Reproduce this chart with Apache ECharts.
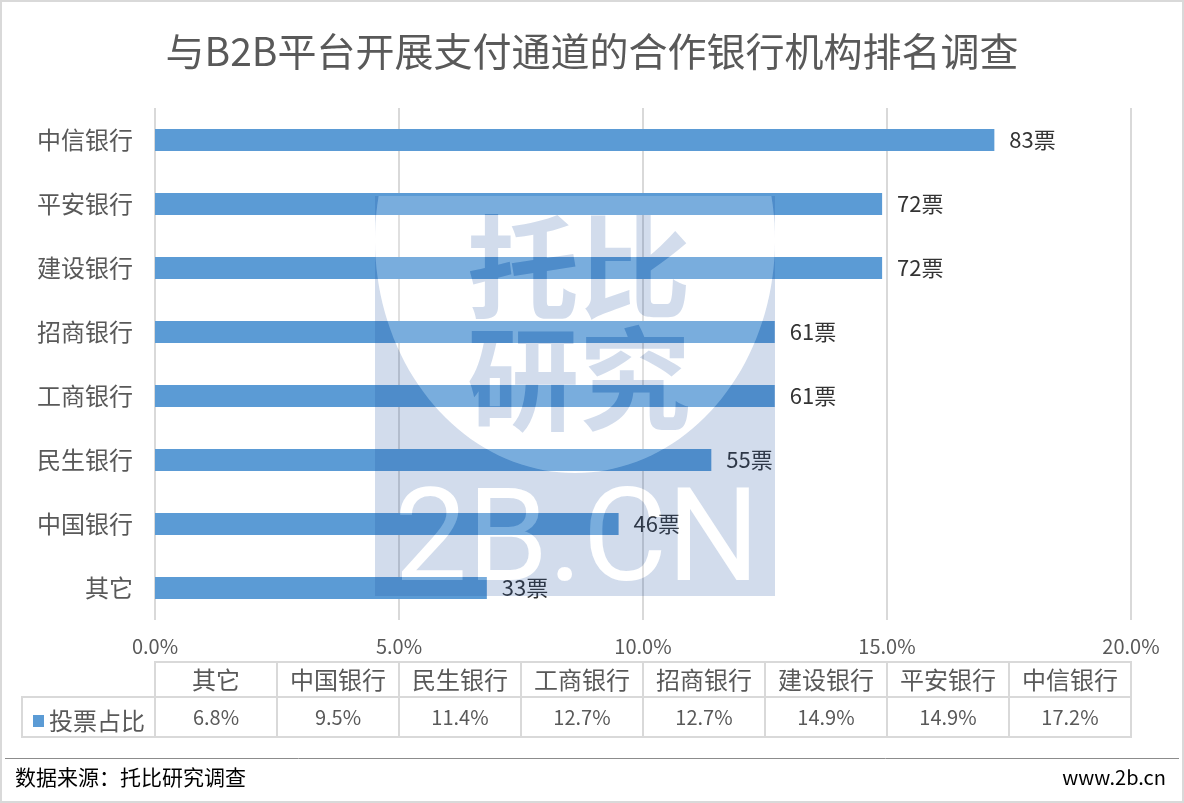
<!DOCTYPE html>
<html><head><meta charset="utf-8">
<script src="https://cdn.jsdelivr.net/npm/echarts@6/dist/echarts.min.js"></script>
<style>html,body{margin:0;padding:0;background:#fff}#c{width:1184px;height:803px;background:#fff}</style>
</head><body><div id="c"></div>
<script>
// ---- data ----
const categories = ['其它','中国银行','民生银行','工商银行','招商银行','建设银行','平安银行','中信银行'];
const shares = [6.8, 9.5, 11.4, 12.7, 12.7, 14.9, 14.9, 17.2];
const votes = [33, 46, 55, 61, 61, 72, 72, 83];
const xTicks = [0, 5, 10, 15, 20];
const tableRows = ['header', 'value'];
const seriesName = '投票占比';
const titleText = '与B2B平台开展支付通道的合作银行机构排名调查';
const sourceText = '数据来源：托比研究调查';
const siteText = 'www.2b.cn';
const wmTextTop = '托比\n研究';
const wmTextBottom = '2B.CN';

// ---- styling ----
const FONT = "'Noto Sans CJK SC','Noto Sans',sans-serif";
const TEXT = '#595959';
const BAR = '#5b9bd5';
const GRID_C = '#d9d9d9';
const WM_BLUE = 'rgba(31,78,160,0.2)';
const WM_WHITE = 'rgba(255,255,255,0.19)';
const HOLE = 'rgba(0,0,0,0)';

const chart = echarts.init(document.getElementById('c'), null, {renderer: 'canvas'});

const tableData = [];
categories.forEach((c, i) => tableRows.forEach((r, j) => tableData.push([i, j])));

// watermark geometry
const WM = {x: 375, y: 196, w: 400, h: 400, cx: 575, cy: 240, rx: 200, ry: 233};
const ang = Math.asin((WM.cy - WM.y) / WM.ry);
const arc = [];
for (let k = 0; k <= 90; k++) {
  const t = Math.PI + ang - (Math.PI + 2 * ang) * k / 90;
  arc.push([WM.cx + WM.rx * Math.cos(t), WM.cy + WM.ry * Math.sin(t)]);
}
const rectMinusArc = [[WM.x, WM.y]].concat(arc, [[WM.x + WM.w, WM.y], [WM.x + WM.w, WM.y + WM.h], [WM.x, WM.y + WM.h]]);

const wmTopStyle = {text: wmTextTop, fontSize: 112, lineHeight: 112, fontWeight: 'bold', fontFamily: FONT, align: 'center', verticalAlign: 'middle'};
const wmBottomStyle = {text: wmTextBottom, fontSize: 130, fontFamily: 'Roboto', align: 'center', verticalAlign: 'middle'};

const option = {
  animation: false,
  title: {
    text: titleText, left: 'center', top: 27,
    textStyle: {fontSize: 39, fontWeight: 'normal', color: TEXT, fontFamily: FONT}
  },
  legend: {
    data: [seriesName], left: 28, top: 704, icon: 'rect', itemWidth: 11, itemHeight: 12,
    selectedMode: false,
    textStyle: {fontSize: 24, color: TEXT, fontFamily: FONT}
  },
  grid: [
    {left: 155, right: 53, top: 108, bottom: 183},
    {left: 155, right: 53, top: 662, height: 75}
  ],
  xAxis: [
    {
      type: 'value', gridIndex: 0, min: xTicks[0], max: xTicks[xTicks.length - 1],
      interval: xTicks[1] - xTicks[0],
      axisLine: {show: false}, axisTick: {show: false},
      splitLine: {show: true, lineStyle: {color: GRID_C, width: 2}},
      axisLabel: {formatter: v => v.toFixed(1) + '%', fontSize: 20, color: TEXT, fontFamily: FONT, margin: 16}
    },
    {type: 'category', gridIndex: 1, data: categories, show: false}
  ],
  yAxis: [
    {
      type: 'category', gridIndex: 0, data: categories,
      axisLine: {show: false}, axisTick: {show: false},
      axisLabel: {fontSize: 24, color: TEXT, fontFamily: FONT, margin: 22}
    },
    {type: 'category', gridIndex: 1, data: tableRows, inverse: true, show: false}
  ],
  series: [
    {
      name: seriesName, type: 'bar', data: shares, barWidth: 22,
      itemStyle: {color: BAR},
      label: {
        show: true, position: 'right', distance: 15,
        formatter: p => votes[p.dataIndex] + '票',
        fontSize: 22, color: '#333', fontFamily: FONT
      }
    },
    {
      name: 'table', type: 'custom', xAxisIndex: 1, yAxisIndex: 1, data: tableData, silent: true,
      renderItem: function (params, api) {
        const i = api.value(0), r = api.value(1);
        const cs = params.coordSys;
        const c = api.coord([i, r]);
        const w = api.size([1, 1])[0];
        const split = Math.round(cs.y + cs.height * 0.46);
        const y0 = r === 0 ? cs.y : split;
        const y1 = r === 0 ? split : cs.y + cs.height;
        const x0 = Math.round(c[0] - w / 2);
        const x1 = Math.round(c[0] + w / 2);
        const txt = r === 0 ? categories[i] : shares[i].toFixed(1) + '%';
        const children = [
          {type: 'rect', shape: {x: x0, y: y0, width: x1 - x0, height: y1 - y0},
           style: {fill: 'rgba(0,0,0,0)', stroke: GRID_C, lineWidth: 2}},
          {type: 'text', style: {text: txt, x: (x0 + x1) / 2, y: (y0 + y1) / 2, align: 'center', verticalAlign: 'middle',
            fill: TEXT, fontSize: r === 0 ? 24 : 20, fontFamily: FONT}}
        ];
        if (i === 0 && r === 1) {
          children.push({type: 'rect', shape: {x: cs.x - 133, y: y0, width: 133, height: y1 - y0},
            style: {fill: 'rgba(0,0,0,0)', stroke: GRID_C, lineWidth: 2}});
        }
        return {type: 'group', children: children};
      }
    }
  ],
  graphic: {
    elements: [
      {type: 'rect', silent: true, shape: {x: 1, y: 1, width: 1182, height: 801}, style: {fill: 'rgba(0,0,0,0)', stroke: GRID_C, lineWidth: 2}},
      {type: 'line', silent: true, shape: {x1: 5, y1: 758.5, x2: 1179, y2: 758.5}, style: {stroke: '#8c8c8c', lineWidth: 1}},
      {type: 'text', silent: true, x: 15, y: 777, style: {text: sourceText, fontSize: 21, fontFamily: FONT, fill: '#000', align: 'left', verticalAlign: 'middle'}},
      {type: 'text', silent: true, x: 1166, y: 777, style: {text: siteText, fontSize: 20, fontFamily: FONT, fill: '#000', align: 'right', verticalAlign: 'middle'}},
      // watermark (separate layer)
      {type: 'polygon', silent: true, zlevel: 1, z: 1, shape: {points: rectMinusArc}, style: {fill: WM_BLUE}},
      {type: 'polygon', silent: true, zlevel: 1, z: 2, shape: {points: arc}, style: {fill: WM_WHITE}},
      {type: 'text', silent: true, zlevel: 1, z: 3, x: 579, y: 323, style: Object.assign({fill: HOLE}, wmTopStyle)},
      {type: 'text', silent: true, zlevel: 1, z: 4, x: 579, y: 323, style: Object.assign({fill: WM_BLUE}, wmTopStyle)},
      {type: 'text', silent: true, zlevel: 1, z: 5, x: 577, y: 547, style: Object.assign({fill: HOLE}, wmBottomStyle)},
      {type: 'text', silent: true, zlevel: 1, z: 6, x: 577, y: 547, style: Object.assign({fill: WM_WHITE}, wmBottomStyle)}
    ]
  }
};
chart.setOption(option);

// cut the watermark letters out of the tinted layer (knock-out text)
const zr = chart.getZr();
zr.refreshImmediately();
zr.storage.getDisplayList(true).forEach(function (el) {
  if (el.zlevel === 1 && el.style && el.style.fill === HOLE && el.style.text) {
    el.style.fill = '#000';
    el.style.blend = 'destination-out';
    el.markRedraw();
  }
});
zr.refreshImmediately();
</script>
</body></html>
